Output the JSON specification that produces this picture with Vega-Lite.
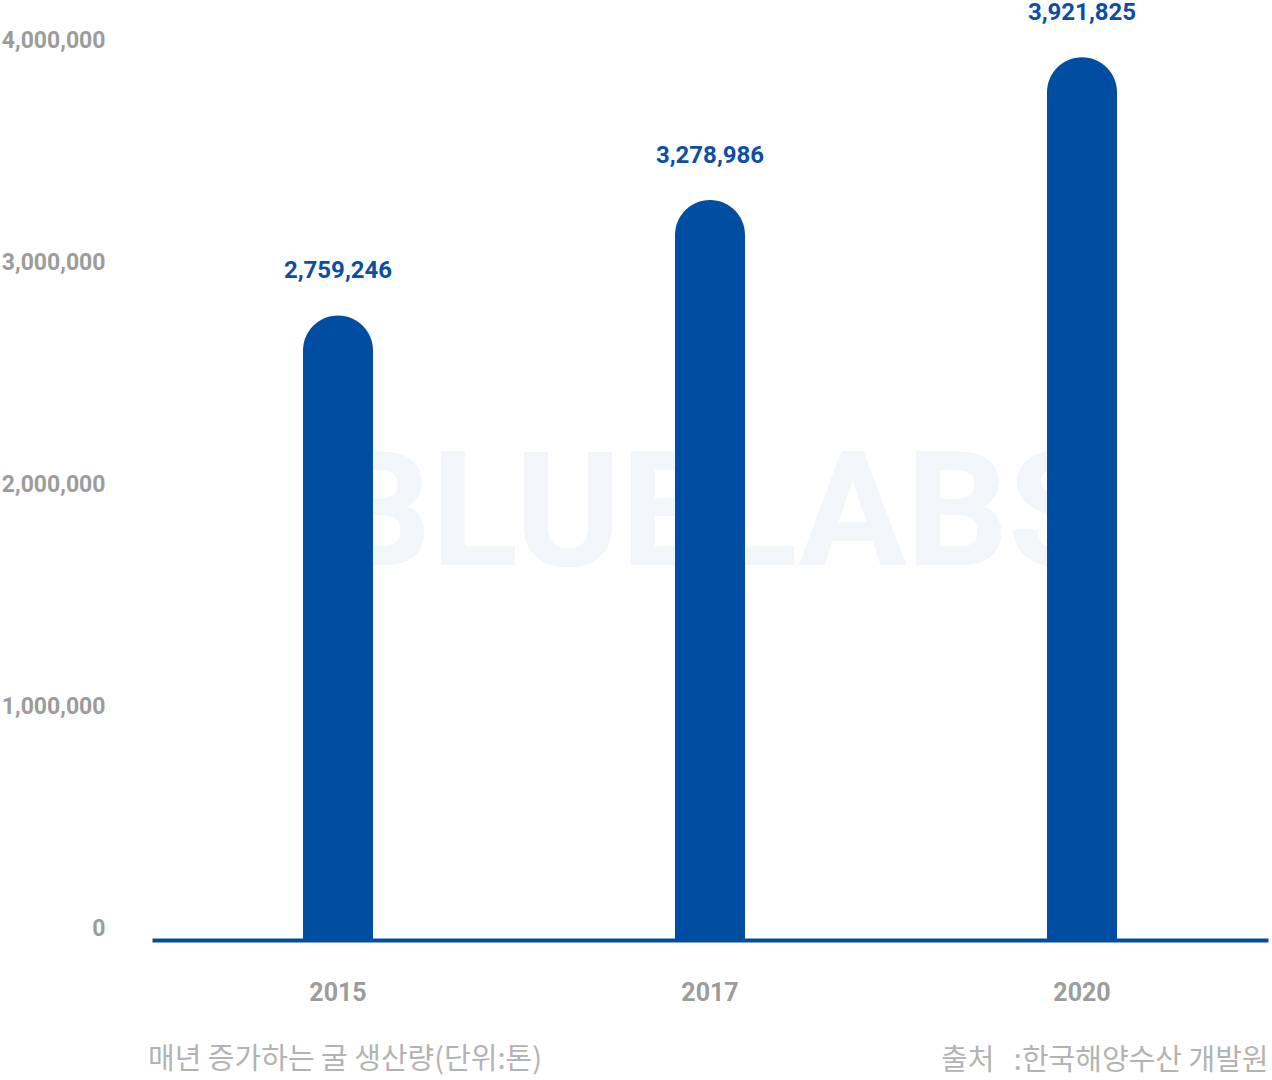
{
  "$schema": "https://vega.github.io/schema/vega-lite/v6.json",
  "width": 1116,
  "height": 900,
  "autosize": "none",
  "padding": {"left": 152, "top": 40, "right": 4, "bottom": 140},
  "background": "white",
  "config": {"view": {"stroke": null}},
  "title": {
    "text": "매년 증가하는 굴 생산량(단위:톤)",
    "orient": "bottom",
    "anchor": "start",
    "frame": "group",
    "font": "Noto Sans CJK KR",
    "fontSize": 29,
    "fontWeight": "normal",
    "color": "#b3b3b3",
    "offset": -29,
    "dx": -4
  },
  "data": {
    "values": [
      {"year": "2015", "value": 2759246},
      {"year": "2017", "value": 3278986},
      {"year": "2020", "value": 3921825}
    ]
  },
  "encoding": {
    "x": {
      "field": "year",
      "type": "nominal",
      "scale": {"paddingInner": 0.6, "paddingOuter": 0.3},
      "axis": {
        "labelAngle": 0,
        "ticks": false,
        "grid": false,
        "domainColor": "#004ea1",
        "domainWidth": 4,
        "labelPadding": 40,
        "labelFont": "Roboto",
        "labelFontSize": 25,
        "labelFontWeight": "bold",
        "labelColor": "#9c9c9c",
        "title": "출처\u00a0\u00a0\u00a0:한국해양수산 개발원",
        "titleAnchor": "end",
        "titleFont": "Noto Sans CJK KR",
        "titleFontSize": 29,
        "titleFontWeight": "normal",
        "titleColor": "#b3b3b3",
        "titlePadding": 41
      }
    }
  },
  "layer": [
    {
      "mark": {"type": "text", "font": "Roboto", "fontWeight": "bold", "fontSize": 160, "color": "#f2f5f9", "baseline": "middle", "align": "center", "dx": 8},
      "encoding": {
        "x": {"datum": "2017"},
        "y": {"datum": 1850000},
        "text": {"value": "BLUELABS"}
      }
    },
    {
      "mark": {"type": "bar", "color": "#004ea1", "width": 70, "cornerRadiusTopLeft": 35, "cornerRadiusTopRight": 35, "y2Offset": 12},
      "encoding": {
        "y": {
          "field": "value",
          "type": "quantitative",
          "scale": {"domain": [-54054, 4000000], "nice": false, "zero": false},
          "axis": {
            "values": [0, 1000000, 2000000, 3000000, 4000000],
            "format": ",d",
            "domain": false,
            "ticks": false,
            "grid": false,
            "labelPadding": 47,
            "labelFont": "Roboto",
            "labelFontSize": 23,
            "labelFontWeight": "bold",
            "labelColor": "#9c9c9c",
            "title": null
          }
        },
        "y2": {"datum": 0}
      }
    },
    {
      "mark": {"type": "text", "font": "Roboto", "fontWeight": "bold", "fontSize": 24, "color": "#0a4fa3", "baseline": "middle", "dy": -44},
      "encoding": {
        "y": {"field": "value", "type": "quantitative"},
        "text": {"field": "value", "type": "quantitative", "format": ",d"}
      }
    }
  ]
}
